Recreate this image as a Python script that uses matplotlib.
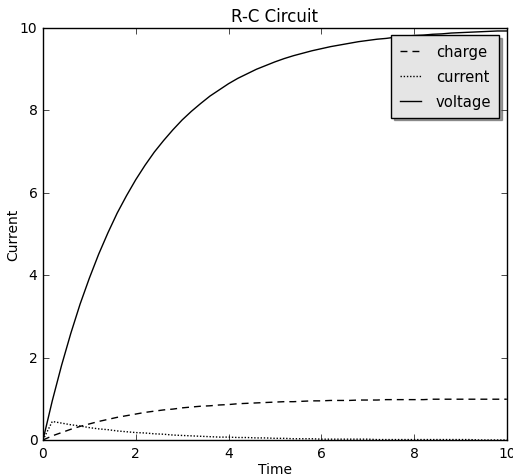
import numpy as np
import matplotlib
matplotlib.use("Agg")
import matplotlib.pyplot as plt

plt.style.use("classic")

time = [round(0.2 * i, 1) for i in range(51)]
voltage = [0, 0.95, 1.81, 2.59, 3.30, 3.93, 4.51, 5.03, 5.51, 5.93, 6.32, 6.67, 6.99, 7.27,
           7.53, 7.77, 7.98, 8.17, 8.35, 8.50, 8.65, 8.78, 8.89, 9.00, 9.09, 9.18, 9.26, 9.33,
           9.39, 9.45, 9.50, 9.55, 9.59, 9.63, 9.67, 9.70, 9.73, 9.75, 9.78, 9.80, 9.82, 9.83,
           9.85, 9.86, 9.88, 9.89, 9.90, 9.91, 9.92, 9.93, 9.93]
charge = [0, 0.10, 0.18, 0.26, 0.33, 0.39, 0.45, 0.50, 0.55, 0.59, 0.63, 0.67, 0.70, 0.73,
          0.75, 0.78, 0.80, 0.82, 0.83, 0.85, 0.86, 0.88, 0.89, 0.90, 0.91, 0.92, 0.93, 0.93,
          0.94, 0.95, 0.95, 0.96, 0.96, 0.96, 0.97, 0.97, 0.97, 0.98, 0.98, 0.98, 0.98, 0.98,
          0.99, 0.99, 0.99, 0.99, 0.99, 0.99, 0.99, 0.99, 0.99]
current = [0, 0.45, 0.41, 0.37, 0.34, 0.30, 0.27, 0.25, 0.22, 0.20, 0.18, 0.17, 0.15, 0.14,
           0.12, 0.11, 0.10, 0.09, 0.08, 0.07, 0.07, 0.06, 0.06, 0.05, 0.05, 0.04, 0.04, 0.03,
           0.03, 0.03, 0.02, 0.02, 0.02, 0.02, 0.02, 0.02, 0.01, 0.01, 0.01, 0.01, 0.01, 0.01,
           0.01, 0.01, 0.01, 0.01, 0.01, 0.00, 0.00, 0.00, 0.00]

fig = plt.figure(figsize=(5.13, 4.77), dpi=100, facecolor="white")
ax = fig.add_axes([0.0838, 0.0755, 0.9042, 0.8635])
ax.plot(time, charge, color="k", linestyle=(0, (5, 3.6)), label="charge")
ax.plot(time, current, color="k", linestyle=(0, (1, 1.3)), label="current")
ax.plot(time, voltage, "k-", label="voltage")
ax.set_xlim(0, 10)
ax.set_ylim(0, 10)
ax.set_xticks([0, 2, 4, 6, 8, 10])
ax.set_yticks([0, 2, 4, 6, 8, 10])
ax.tick_params(labelsize=10)
ax.set_title("R-C Circuit", fontsize=12)
ax.set_xlabel("Time", fontsize=10, labelpad=2)
ax.set_ylabel("Current", fontsize=10, labelpad=0)
leg = ax.legend(loc="upper right", shadow=True, fancybox=False, fontsize=10.6,
                numpoints=1, handlelength=1.45, handletextpad=1.0, borderaxespad=0.5,
                labelspacing=0.7, borderpad=0.56)
leg.get_frame().set_facecolor("#e5e5e5")
fig.savefig("out.png", dpi=100)
